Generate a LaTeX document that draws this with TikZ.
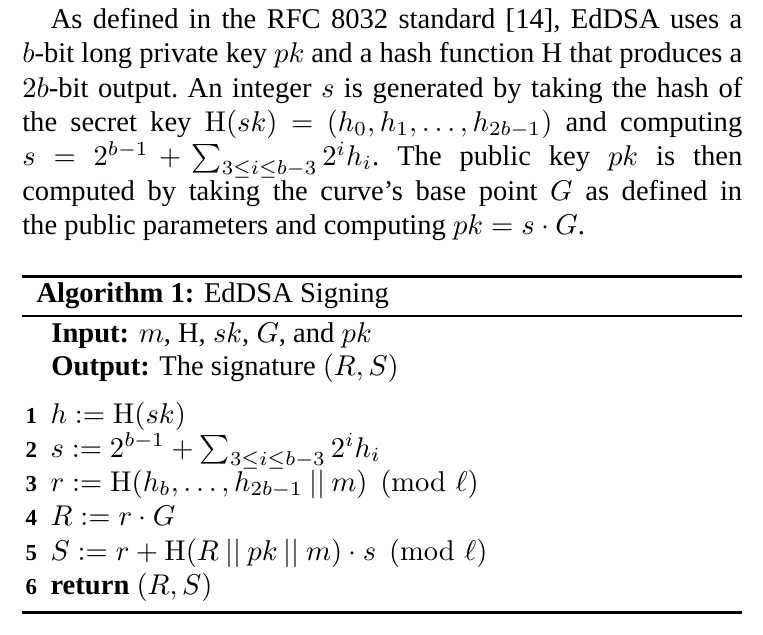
\documentclass[tikz,border=0pt]{standalone}
\usepackage{amsmath}
\usepackage[no-math]{fontspec}
\setmainfont{Liberation Serif}
\usetikzlibrary{positioning}

\begin{document}
\begin{tikzpicture}[x=1pt,y=1pt,
    txt/.style={anchor=base west,inner sep=0pt,font=\fontsize{10}{12}\selectfont},
    lnum/.style={anchor=base west,inner sep=0pt,font=\footnotesize\bfseries},
    heavyrule/.style={line width=0.8pt},
    thinrule/.style={line width=0.6pt}]
    \useasboundingbox (0,0) rectangle (267.05,-221.9);

    % paragraph
    \node[anchor=north west,inner sep=0pt,text width=252pt,align=justify,
      font=\fontsize{10}{12}\selectfont] (para) at (7.6,-1.4)
      {\frenchspacing\spaceskip=0.25em plus 0.3em minus 0.12em
       \strut\hspace*{10pt}As defined in the RFC 8032 standard [14], EdDSA uses a\linebreak
       $b$-bit long private key $pk$ and a hash function H that produces a\linebreak
       $2b$-bit output. An integer $s$ is generated by taking the hash of\linebreak
       the secret key $\mathrm{H}(sk) = (h_0, h_1, \ldots, h_{2b-1})$ and computing\linebreak
       $s = 2^{b-1} + \sum_{3\leq i\leq b-3} 2^i h_i$. The public key $pk$ is then\linebreak
       computed by taking the curve's base point $G$ as defined in\linebreak
       the public parameters and computing $pk = s \cdot G$.};

    % algorithm box
    \coordinate (topl) at (7.6,-96.8);
    \coordinate (topr) at (259.6,-96.8);
    \coordinate (midl) at (7.6,-110.6);
    \coordinate (midr) at (259.6,-110.6);
    \coordinate (botl) at (7.6,-214.4);
    \coordinate (botr) at (259.6,-214.4);
    \draw[heavyrule] (topl) -- (topr);
    \draw[thinrule] (midl) -- (midr);
    \draw[heavyrule] (botl) -- (botr);

    \node[txt] (caption) at (12.6,-105.9) {\textbf{Algorithm 1:} EdDSA Signing};
    \node[txt] (input) at (17.8,-120) {\textbf{Input:} $m$, H, $sk$, $G$, and $pk$};
    \node[txt] (output) at (17.8,-131.25) {\textbf{Output:} The signature $(R,S)$};

    % numbered steps
    \foreach \i/\stmt in {1/{$h := \mathrm{H}(sk)$},
        2/{$s := 2^{b-1} + \sum_{3\leq i\leq b-3} 2^i h_i$},
        3/{$r := \mathrm{H}(h_b, \ldots, h_{2b-1} \mathbin{||} m) \pmod{\ell}$},
        4/{$R := r \cdot G$},
        5/{$S := r + \mathrm{H}(R \mathbin{||} pk \mathbin{||} m) \cdot s \pmod{\ell}$},
        6/{\textbf{return} $(R,S)$}}
    {
      \node[lnum] (num\i) at (8.75,{-148.05-12*(\i-1)}) {\i};
      \node[txt] (step\i) at (17.5,{-148.05-12*(\i-1)}) {\stmt};
    }
\end{tikzpicture}
\end{document}
